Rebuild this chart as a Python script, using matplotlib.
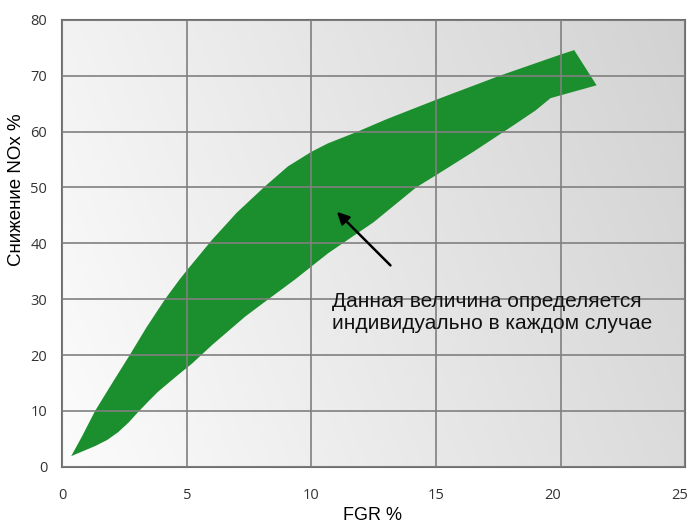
import numpy as np
import matplotlib
matplotlib.use('Agg')
import matplotlib.pyplot as plt
from matplotlib.colors import LinearSegmentedColormap
from matplotlib.transforms import ScaledTranslation

# upper edge of the band, left to right
upper_x = [0.35, 0.78, 1.31, 2.0, 2.70, 3.38, 4.12, 4.68, 5.0, 6.0, 7.0, 8.13, 9.06, 10.0, 10.66, 11.85, 13.0, 15.0, 17.55, 20.0, 20.55]
upper_y = [1.9, 5.4, 10.0, 15.0, 20.0, 25.0, 30.0, 33.4, 35.2, 40.6, 45.5, 50.2, 53.8, 56.4, 57.9, 60.0, 62.2, 65.7, 70.0, 73.8, 74.6]
# tip on the right
tip_x = [21.45]
tip_y = [68.3]
# lower edge of the band, left to right
lower_x = [0.35, 1.31, 1.8, 2.24, 2.65, 3.04, 3.45, 3.83, 4.63, 5.21, 6.01, 7.34, 8.27, 9.33, 10.66, 11.25, 12.5, 14.2, 15.0, 16.5, 18.0, 19.0, 19.6]
lower_y = [1.9, 3.7, 4.8, 6.2, 7.9, 9.8, 11.7, 13.4, 16.4, 18.5, 21.8, 26.9, 30.0, 33.5, 38.2, 40.0, 43.8, 50.0, 52.2, 56.4, 60.8, 63.8, 66.0]

x_ticks = [0, 5, 10, 15, 20, 25]
y_ticks = [0, 10, 20, 30, 40, 50, 60, 70, 80]

note = 'Данная величина определяется\nиндивидуально в каждом случае'
arrow_tip = (10.94, 46.0)
arrow_tail = (13.25, 35.7)

fig = plt.figure(figsize=(6.89, 5.25), dpi=100)
ax = fig.add_axes([0.0907, 0.111, 0.9035, 0.851])

# grey gradient background
gx, gy = np.meshgrid(np.linspace(0, 1, 300), np.linspace(0, 1, 300))
grad = 0.78 * gx + 0.22 * gy
cmap = LinearSegmentedColormap.from_list('bg', ['#fcfcfc', '#d2d2d2'])
ax.imshow(grad, extent=[0, 25, 0, 80], origin='lower', aspect='auto', cmap=cmap, zorder=0)

ax.set_xlim(0, 25)
ax.set_ylim(0, 80)
ax.set_xticks(x_ticks)
ax.set_yticks(y_ticks)
ax.grid(True, color='#808080', linewidth=1.2, zorder=1)
ax.set_axisbelow(False)

poly_x = upper_x + tip_x + lower_x[::-1]
poly_y = upper_y + tip_y + lower_y[::-1]
ax.fill(poly_x, poly_y, color='#1b8f2d', linewidth=0, zorder=2)

ax.annotate('', xy=arrow_tip, xytext=arrow_tail,
            arrowprops=dict(arrowstyle='-|>', color='black', lw=1.8, mutation_scale=18),
            zorder=3)
ax.text(10.82, 27.6, note, fontsize=15, family='Liberation Sans', color='#111111',
        va='center', ha='left', linespacing=1.2, zorder=3)

for s in ax.spines.values():
    s.set_color('#6e6e6e')
    s.set_linewidth(1.5)

ax.tick_params(length=0, labelsize=10.5, labelcolor='#333333')
ax.tick_params(axis='x', pad=15)
ax.tick_params(axis='y', pad=11)
for lab in ax.get_xticklabels() + ax.get_yticklabels():
    lab.set_family('Open Sans')
# the last two x labels sit a little to the left in the original
xlabs = ax.get_xticklabels()
xlabs[4].set_transform(xlabs[4].get_transform() + ScaledTranslation(-8 / 100, 0, fig.dpi_scale_trans))
xlabs[5].set_transform(xlabs[5].get_transform() + ScaledTranslation(-5 / 100, 0, fig.dpi_scale_trans))

fig.text(372 / 689, 1 / 525, 'FGR %', fontsize=13, family='Liberation Sans',
         ha='center', va='bottom')
fig.text(16.5 / 689, 1 - 190 / 525, 'Снижение NOx %', fontsize=13.5, family='Liberation Sans',
         rotation=90, ha='center', va='center')

fig.savefig('out.png', dpi=100)
